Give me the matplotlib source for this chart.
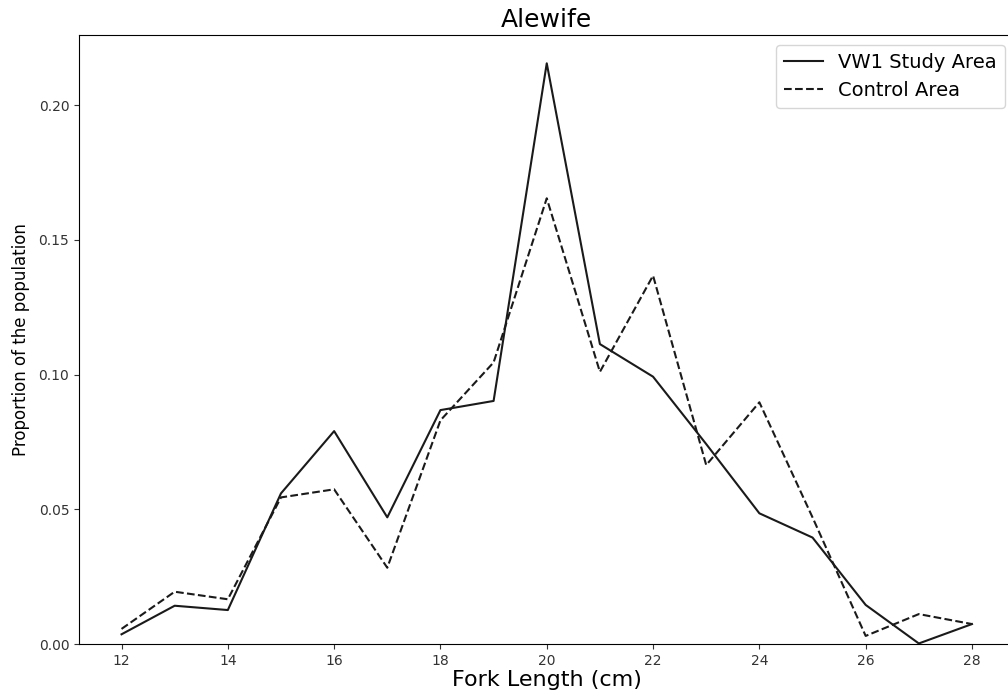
import numpy as np
import matplotlib
matplotlib.use('Agg')
import matplotlib.pyplot as plt

# fork length bins (cm)
lengths = [12, 13, 14, 15, 16, 17, 18, 19, 20, 21, 22, 23, 24, 25, 26, 27, 28]
# proportions
study_area = [0.0036, 0.0142, 0.0126, 0.0559, 0.0790, 0.0470, 0.0868, 0.0902,
              0.2155, 0.1113, 0.0992, 0.0742, 0.0485, 0.0395, 0.0145, 0.0002, 0.0074]
control_area = [0.0056, 0.0194, 0.0166, 0.0544, 0.0574, 0.0283, 0.0830, 0.1045,
                0.1654, 0.1010, 0.1367, 0.0664, 0.0897, 0.0470, 0.0030, 0.0111, 0.0074]

fig = plt.figure(figsize=(10.08, 7.0), dpi=100)
# axes runs a bit past the right edge, like the cropped original
ax = fig.add_axes([79 / 1008, 56 / 700, (1014.5 - 79) / 1008, (644 - 35) / 700])

ax.plot(lengths, study_area, color='#1a1a1a', linestyle='-', linewidth=1.5, label='VW1 Study Area')
ax.plot(lengths, control_area, color='#1a1a1a', linestyle='--', linewidth=1.5, label='Control Area')

ax.set_xlim(11.2, 28.8)
ax.set_ylim(0, 0.226)
ax.set_xticks(np.arange(12, 29, 2))
ax.set_yticks([0.0, 0.05, 0.10, 0.15, 0.20])
ax.set_yticklabels(['0.00', '0.05', '0.10', '0.15', '0.20'])
ax.tick_params(labelsize=10, colors='#333333')

ax.set_title('Alewife', fontsize=18)
ax.set_xlabel('Fork Length (cm)', fontsize=16, labelpad=2)
ax.set_ylabel('Proportion of the population', fontsize=12, labelpad=6)
ax.legend(loc='upper right', fontsize=14)

fig.savefig('out.png', dpi=100)
